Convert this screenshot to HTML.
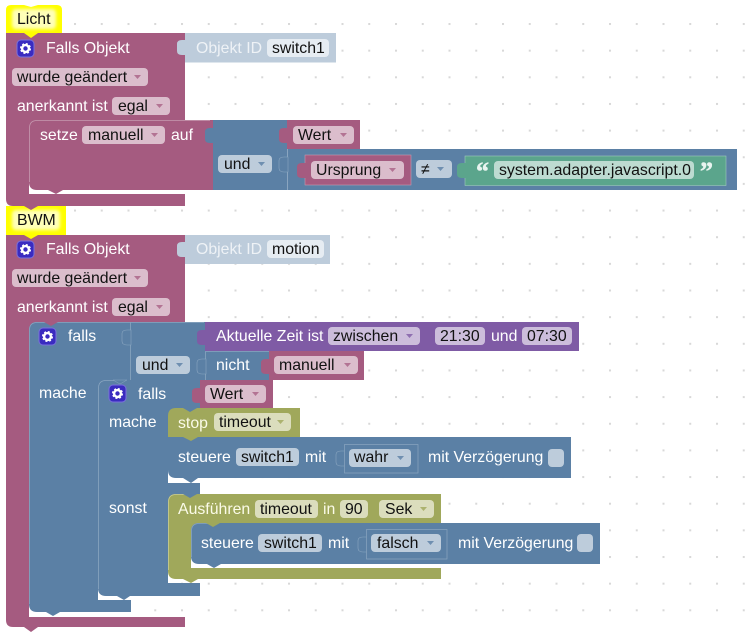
<!DOCTYPE html>
<html><head><meta charset="utf-8"><style>
html,body{margin:0;padding:0;background:#fff;width:745px;height:633px;overflow:hidden}
svg{display:block}
text{font-family:"Liberation Sans",Arial,sans-serif;font-size:15.85px}
.w{fill:#fff}.k{fill:#111}
.m{fill:#A55B80}.b{fill:#5B80A5}.o{fill:#A0A85B}.g{fill:#5BA58C}.p{fill:#7F5BA5}
.fm{fill:#DBBDCC}.fb{fill:#BDCCDB}.fo{fill:#DBDDBD}.fg{fill:#BDDBD1}.fp{fill:#CCBDDB}
.lb{fill:none;stroke:#8aa5c0;stroke-width:.8}
.lm{fill:none;stroke:#c69ab0;stroke-width:.8}
.lo{fill:none;stroke:#c9cc96;stroke-width:.8}
.q{font-size:26px;font-weight:bold;font-family:"Liberation Serif",serif;fill:#e8f4ef;stroke:#e8f4ef;stroke-width:.5}
</style></head><body>
<svg width="745" height="633" viewBox="0 0 745 633" xmlns="http://www.w3.org/2000/svg">
<defs>
<pattern id="dots" x="20.5" y="23" width="26.75" height="26.65" patternUnits="userSpaceOnUse"><rect x="0" y="0" width="2" height="2" fill="#d8d8d8"/></pattern>
<filter id="soft" x="-20%" y="-30%" width="140%" height="160%"><feGaussianBlur stdDeviation="1.6"/></filter>
<path id="tab" d="M1 0h-4q-5 0-5 4v7q0 4 5 4h4z"/>
<g id="gear"><rect x="-8" y="-8" width="17" height="17" rx="4" fill="#3A2BC0" stroke="#7a70dd"/><circle cx=".5" cy=".5" r="3.4" fill="none" stroke="#fff" stroke-width="2.4"/><circle cx=".5" cy=".5" r="4.8" fill="none" stroke="#fff" stroke-width="1.5" stroke-dasharray="2 1.8"/></g>
</defs>
<rect width="745" height="633" fill="url(#dots)"/>

<!-- Comments (under the blocks) -->
<path d="M6 10q0-5 5-5h13l7 2 7-2h19q5 0 5 5v23H6z" fill="#FFFF00"/>
<rect x="12" y="9" width="44" height="20" rx="4" fill="#FFFFB8" filter="url(#soft)"/>
<text x="17" y="24" class="k">Licht</text>
<rect x="6" y="206" width="60" height="29" fill="#FFFF00"/>
<rect x="12" y="210" width="48" height="20" rx="4" fill="#FFFFB8" filter="url(#soft)"/>
<text x="17" y="225" class="k">BWM</text>

<!-- Block 1 -->
<path class="m" d="M6 33H185v87H29v74h156v12H38l-7 4-7-4H13q-7 0-7-7z"/>
<polygon points="24,33 31,38 38,33" fill="#FFFF00"/>
<rect x="29" y="120" width="9" height="9" class="m"/>
<path class="m" d="M29 128q0-8 8-8H213v70H63l-7 4-8-4H37q-8 0-8-8z"/>
<path class="lm" d="M29.500 182V128q0-7.500 7.500-7.500H210"/>
<rect x="185" y="33" width="151" height="29.500" fill="#BDCCDB"/>
<use href="#tab" x="185" y="40" fill="#BDCCDB"/>
<rect x="267" y="39" width="62" height="18" rx="4" fill="#E6ECF2"/>
<use href="#gear" x="25" y="48"/>
<text x="46" y="53" class="w">Falls Objekt</text>
<text x="196" y="53" fill="#eef2f6">Objekt ID</text>
<text x="272" y="53" class="k">switch1</text>
<rect x="12" y="68" width="136" height="18" rx="4" class="fm"/>
<text x="17" y="82" class="k">wurde geändert</text>
<polygon points="134,75 141,75 137.500,79" fill="#A55B80" opacity=".75"/>
<text x="17" y="111" class="w">anerkannt ist</text>
<rect x="112" y="97" width="58" height="18" rx="4" class="fm"/>
<text x="118" y="111" class="k">egal</text>
<polygon points="156,104 163,104 159.500,108" fill="#A55B80" opacity=".75"/>
<text x="40" y="140" class="w">setze</text>
<rect x="82" y="126" width="83" height="18" rx="4" class="fm"/>
<text x="88" y="140" class="k">manuell</text>
<polygon points="151,133 158,133 154.500,137" fill="#A55B80" opacity=".75"/>
<text x="171" y="140" class="w">auf</text>
<rect x="213" y="120" width="74" height="70" class="b"/>
<use href="#tab" x="213" y="128" class="b"/>
<rect x="218" y="155" width="54" height="18" rx="4" class="fb"/>
<text x="224" y="169" class="k">und</text>
<polygon points="258,162 265,162 261.500,166" fill="#5B80A5" opacity=".8"/>
<rect x="287" y="120" width="73" height="29" class="m"/>
<use href="#tab" x="287" y="128" class="m"/>
<rect x="293" y="126" width="61" height="18" rx="4" class="fm"/>
<text x="298" y="140" class="k">Wert</text>
<polygon points="340,133 347,133 343.500,137" fill="#A55B80" opacity=".75"/>
<rect x="287" y="149" width="450" height="41" class="b"/>
<line x1="287.500" y1="149" x2="287.500" y2="190" stroke="#8aa5c0"/>
<use href="#tab" x="287" y="157" fill="#5B80A5" stroke="#8aa5c0" stroke-width=".6"/>
<rect x="305" y="155" width="106" height="30" class="m" stroke="#c69ab0" stroke-width=".6"/>
<use href="#tab" x="305" y="163" class="m"/>
<rect x="311" y="161" width="93" height="18" rx="4" class="fm"/>
<text x="316" y="175" class="k">Ursprung</text>
<polygon points="389,168 396,168 392.500,172" fill="#A55B80" opacity=".75"/>
<rect x="416" y="160" width="36" height="18" rx="4" class="fb"/>
<text x="421" y="174" class="k">≠</text>
<polygon points="437,167 444,167 440.500,171" fill="#5B80A5" opacity=".8"/>
<rect x="465" y="156" width="261" height="29.500" class="g" stroke="#9fcbbb" stroke-width=".6"/>
<use href="#tab" x="465" y="163" class="g"/>
<rect x="494" y="161" width="200" height="18" rx="4" class="fg"/>
<text x="499" y="175" class="k">system.adapter.javascript.0</text>
<text x="476" y="180" class="q">“</text>
<text x="700" y="180" class="q">”</text>

<!-- Block 2 main -->
<path class="m" d="M6 235H185v87H29v295h156v10H38l-7 5-7-5H13q-7 0-7-7z"/>
<polygon points="24,235 31,239 38,235" fill="#FFFF00"/>
<rect x="185" y="235" width="145" height="29" fill="#BDCCDB"/>
<use href="#tab" x="185" y="242" fill="#BDCCDB"/>
<rect x="267" y="240" width="57" height="18" rx="4" fill="#E6ECF2"/>
<use href="#gear" x="25" y="249"/>
<text x="46" y="254" class="w">Falls Objekt</text>
<text x="196" y="254" fill="#eef2f6">Objekt ID</text>
<text x="272" y="254" class="k">motion</text>
<rect x="12" y="269" width="136" height="18" rx="4" class="fm"/>
<text x="17" y="283" class="k">wurde geändert</text>
<polygon points="134,276 141,276 137.500,280" fill="#A55B80" opacity=".75"/>
<text x="17" y="312" class="w">anerkannt ist</text>
<rect x="112" y="298" width="58" height="18" rx="4" class="fm"/>
<text x="118" y="312" class="k">egal</text>
<polygon points="156,305 163,305 159.500,309" fill="#A55B80" opacity=".75"/>

<!-- outer falls -->
<rect x="29" y="322" width="9" height="9" class="m"/>
<path d="M29 330q0-8 8-8H205v58H98v220h33v12H60l-7 4-7-4H37q-8 0-8-8z" class="b"/>
<path class="lb" d="M29.500 604V330q0-7.500 7.500-7.500H204"/>
<polygon points="44,322 51,326 58,322" fill="#A55B80"/>
<use href="#gear" x="47" y="336"/>
<text x="68" y="341" class="w">falls</text>
<line x1="130.500" y1="322" x2="130.500" y2="380" stroke="#8aa5c0" stroke-width=".8"/>
<use href="#tab" x="130" y="330" fill="#5B80A5" stroke="#8aa5c0" stroke-width=".6"/>
<rect x="136" y="356" width="54" height="18" rx="4" class="fb"/>
<text x="142" y="370" class="k">und</text>
<polygon points="176,363 183,363 179.500,367" fill="#5B80A5" opacity=".8"/>
<text x="39" y="398" class="w">mache</text>

<!-- purple -->
<rect x="205" y="322" width="374" height="29" class="p"/>
<use href="#tab" x="205" y="330" class="p"/>
<text x="216" y="341" class="w">Aktuelle Zeit ist</text>
<rect x="328" y="327" width="92" height="18" rx="4" class="fp"/>
<text x="333" y="341" class="k">zwischen</text>
<polygon points="406,334 413,334 409.500,338" fill="#7F5BA5" opacity=".8"/>
<rect x="435" y="327" width="50" height="18" rx="4" class="fp"/>
<text x="440" y="341" class="k">21:30</text>
<text x="491" y="341" class="w">und</text>
<rect x="522" y="327" width="50" height="18" rx="4" class="fp"/>
<text x="527" y="341" class="k">07:30</text>

<!-- nicht -->
<rect x="205" y="351" width="64" height="29" class="b"/>
<path class="lb" d="M205.500 380V351.500H269"/>
<use href="#tab" x="205" y="359" fill="#5B80A5" stroke="#8aa5c0" stroke-width=".6"/>
<text x="216" y="370" class="w">nicht</text>
<rect x="269" y="351" width="95" height="29" class="m"/>
<use href="#tab" x="269" y="359" class="m"/>
<rect x="274" y="356" width="84" height="18" rx="4" class="fm"/>
<text x="279" y="370" class="k">manuell</text>
<polygon points="344,363 351,363 347.500,367" fill="#A55B80" opacity=".75"/>

<!-- inner falls -->
<rect x="98" y="380" width="9" height="9" class="b"/>
<path d="M98 388q0-8 8-8H200v28H168v75H200v11H168v89H200v13H130l-6 4-7-4H106q-8 0-8-8z" class="b"/>
<path class="lb" d="M98.500 589V388q0-7.500 7.500-7.500h12"/>
<polygon points="113,380 120,384 127,380" fill="#5B80A5" stroke="#8aa5c0" stroke-width=".5"/>
<use href="#gear" x="117" y="393"/>
<text x="138" y="399" class="w">falls</text>
<rect x="200" y="380" width="73" height="28.500" class="m"/>
<use href="#tab" x="200" y="388" class="m"/>
<rect x="205" y="385" width="61" height="18" rx="4" class="fm"/>
<text x="210" y="399" class="k">Wert</text>
<polygon points="252,392 259,392 255.500,396" fill="#A55B80" opacity=".75"/>
<text x="109" y="427" class="w">mache</text>
<text x="109" y="513" class="w">sonst</text>

<!-- stop -->
<rect x="168" y="408" width="9" height="9" class="b"/>
<path d="M168 416q0-8 8-8H300v29H198l-7 4-8-4h-15z" class="o"/>
<polygon points="183,408 190,412 197,408" fill="#5B80A5"/>
<text x="178" y="428" fill="#fbfbe8">stop</text>
<rect x="214" y="413" width="77" height="18" rx="4" class="fo"/>
<text x="219" y="427" class="k">timeout</text>
<polygon points="277,420 284,420 280.500,424" fill="#A0A85B" opacity=".8"/>

<!-- steuere 1 -->
<path d="M168 441V437H571v41H198l-7 5-8-5H176q-8 0-8-8z" class="b"/>
<polygon points="183,437 191,441 198,437" fill="#A0A85B"/>
<text x="178" y="462" class="w">steuere</text>
<rect x="236" y="448" width="63" height="18" rx="4" class="fb"/>
<text x="241" y="462" class="k">switch1</text>
<text x="305" y="462" class="w">mit</text>
<use href="#tab" x="344" y="451" fill="#5B80A5" stroke="#8aa5c0" stroke-width=".6"/>
<rect x="344.500" y="444.500" width="73.500" height="28.500" class="b" stroke="#8aa5c0" stroke-width=".7"/>
<rect x="349" y="449" width="62" height="18" rx="4" class="fb"/>
<text x="354" y="462" class="k">wahr</text>
<polygon points="397,456 404,456 400.500,460" fill="#5B80A5" opacity=".8"/>
<text x="428" y="462" class="w">mit Verzögerung</text>
<rect x="548" y="449" width="16" height="18" rx="4" class="fb"/>

<!-- Ausfuehren -->
<rect x="168" y="494" width="9" height="9" class="b"/>
<path d="M168 502q0-8 8-8H441v29H191v45H441v11H198l-7 4-8-4H176q-8 0-8-8z" class="o"/>
<path class="lo" d="M168.500 570V502q0-7.500 7.500-7.500h12"/>
<polygon points="183,494 190,498 197,494" fill="#5B80A5"/>
<text x="178" y="514" fill="#fbfbe8">Ausführen</text>
<rect x="255" y="500" width="63" height="18" rx="4" class="fo"/>
<text x="260" y="514" class="k">timeout</text>
<text x="323" y="514" fill="#fbfbe8">in</text>
<rect x="340" y="500" width="28" height="18" rx="4" class="fo"/>
<text x="345" y="514" class="k">90</text>
<rect x="379" y="500" width="55" height="18" rx="4" class="fo"/>
<text x="385" y="514" class="k">Sek</text>
<polygon points="420,507 427,507 423.500,511" fill="#A0A85B" opacity=".8"/>

<!-- steuere 2 -->
<rect x="191" y="523" width="9" height="9" class="o"/>
<path d="M191 531q0-8 8-8H600v41H221l-7 4-7-4H199q-8 0-8-8z" class="b"/>
<path class="lb" d="M191.500 557V531q0-7.500 7.500-7.500h10"/>
<polygon points="206,523 213,527 220,523" fill="#A0A85B"/>
<text x="201" y="548" class="w">steuere</text>
<rect x="258" y="534" width="64" height="18" rx="4" class="fb"/>
<text x="264" y="548" class="k">switch1</text>
<text x="328" y="548" class="w">mit</text>
<use href="#tab" x="366" y="537" fill="#5B80A5" stroke="#8aa5c0" stroke-width=".6"/>
<rect x="366.500" y="529.500" width="80.500" height="29.500" class="b" stroke="#8aa5c0" stroke-width=".7"/>
<rect x="371" y="534" width="70" height="18" rx="4" class="fb"/>
<text x="377" y="548" class="k">falsch</text>
<polygon points="427,541 434,541 430.500,545" fill="#5B80A5" opacity=".8"/>
<text x="458" y="548" class="w">mit Verzögerung</text>
<rect x="577" y="534" width="16" height="18" rx="4" class="fb"/>
</svg>
</body></html>
